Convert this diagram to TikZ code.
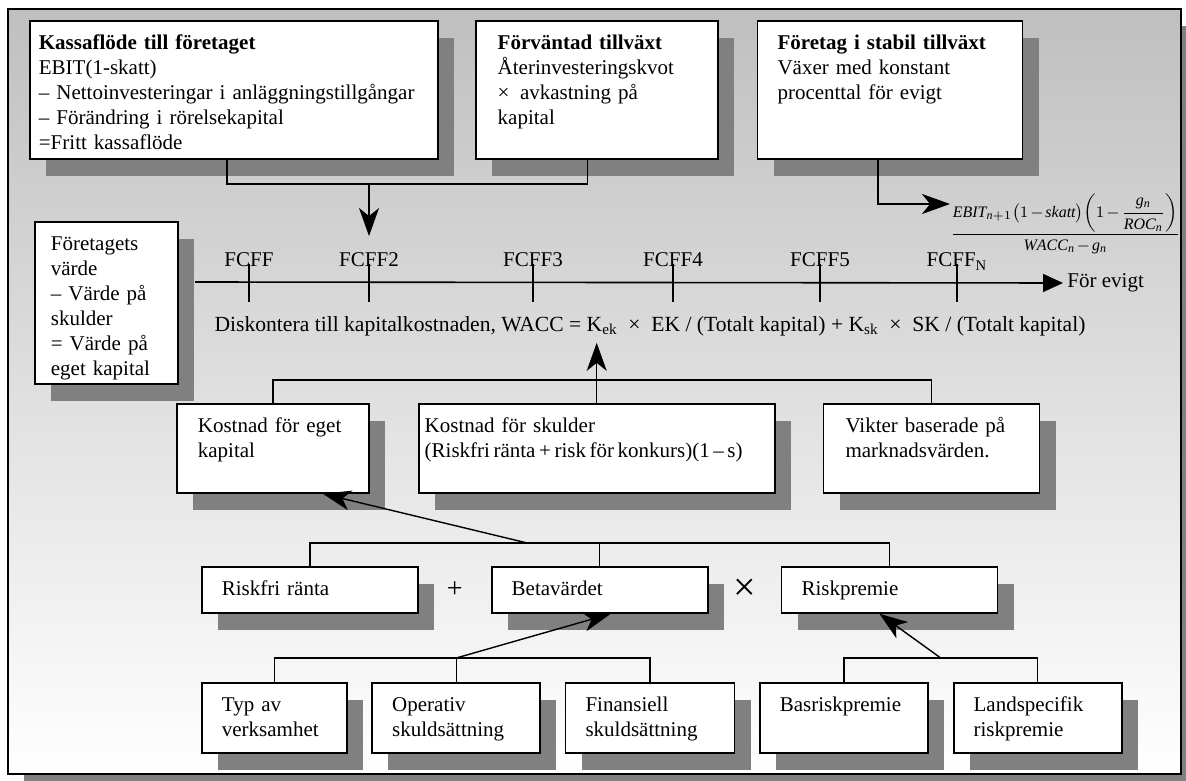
\documentclass[tikz,border=0pt]{standalone}
\usepackage{amsmath}
\usepackage{fontspec}
\setmainfont{Liberation Serif}
\usepackage{tikz}
\usetikzlibrary{arrows.meta,positioning,shadows,calc}

\begin{document}
\begin{tikzpicture}[
    x=0.5pt, y=-0.5pt,
    font=\fontsize{10.5}{12.5}\selectfont,
    box/.style={draw, line width=0.9pt, fill=white, anchor=north west, align=left,
                inner xsep=10pt, inner ysep=0pt, text height=14.5pt,
                drop shadow={shadow xshift=8pt, shadow yshift=-8.5pt,
                             fill=black!50, opacity=1}},
    toprow/.style={box, text depth=54.5pt},
    midrow/.style={box, text depth=30pt},
    lowrow/.style={box, text depth=8.5pt, text width=88pt},
    botrow/.style={box, text depth=20.5pt, text width=#1},
    conn/.style={line width=0.7pt},
    arr/.style={-{Stealth[length=14pt, width=10pt, inset=4pt]}, line width=0.7pt},
    axis/.style={-{Triangle[length=10pt, width=9pt]}, thick},
]
    \useasboundingbox (0,0) rectangle (1186,780);
    \clip (0,0) rectangle (1186,780);
    \fill[black!50] (24,26) rectangle (1197,791);
    \shade[top color=black!25, bottom color=white, draw, line width=1pt] (8,9) rectangle (1181,774);

    % top row
    \node[toprow, inner xsep=4.5pt, text width=195pt] (kf) at (29,20)
        {\textbf{Kassaflöde till företaget}\\ EBIT(1-skatt)\\
         – Nettoinvesteringar i anläggningstillgångar\\
         – Förändring i rörelsekapital\\ =Fritt kassaflöde};
    \node[toprow, inner xsep=11pt, text width=99pt, right=18pt of kf] (ft)
        {\textbf{Förväntad tillväxt}\\ Återinvesteringskvot\\ ×\enspace avkastning på\\ kapital};
    \node[toprow, text width=112.5pt, right=19pt of ft] (st)
        {\textbf{Företag i stabil tillväxt}\\ Växer med konstant\\ procenttal för evigt};

    \node[anchor=west, inner sep=0pt, font=\fontsize{8}{10}\selectfont] (frac) at (950,224)
        {$\thinmuskip=0mu \medmuskip=2mu
          \dfrac{\mathit{EBIT}_{\mathit{n}+1}\bigl(1-\mathit{skatt}\bigr)\left(1-\dfrac{\mathit{g}_{\mathit{n}}}{\mathit{ROC}_{\mathit{n}}}\right)}{\mathit{WACC}_{\mathit{n}}-\mathit{g}_{\mathit{n}}}$};

    % timeline
    \node[box, inner xsep=8pt, text width=55.5pt, text depth=66.5pt] (vf) at (34,221)
        {Företagets\\ värde\\ – Värde på\\ skulder\\ = Värde på\\ eget kapital};
    \coordinate (ax0) at (195,282);
    \node[anchor=west, inner sep=2pt] (evigt) at (1063,283) {För evigt};
    \draw[axis] (ax0) -- (evigt.west);
    \foreach \x/\lbl [count=\i] in {249/FCFF, 369/FCFF2, 533/FCFF3, 673/FCFF4, 820/FCFF5, 957/FCFF\textsubscript{N}} {
        \draw[thick] (\x,264) -- (\x,302);
        \node[anchor=base] (f\i) at (\x,267) {\lbl};
    }
    \node[font=\fontsize{10.8}{13}\selectfont] (wacc) at (650,326) {Diskontera till kapitalkostnaden, WACC = K\textsubscript{ek}\enspace×\enspace EK / (Totalt kapital) + K\textsubscript{sk}\enspace×\enspace SK / (Totalt kapital)};

    % middle row
    \node[midrow, inner xsep=10.5pt, text width=75pt] (kek) at (176,403) {Kostnad för eget\\ kapital};
    \node[midrow, inner xsep=3pt, text width=172pt, right=24pt of kek] (ksk)
        {Kostnad för skulder\\ {\spaceskip=0.17em\relax (Riskfri ränta + risk för konkurs)(1 – s)}};
    \node[midrow, inner xsep=11pt, text width=86pt, right=23.5pt of ksk] (vik) {Vikter baserade på\\ marknadsvärden.};

    % cost of equity
    \node[lowrow] (rf) at (201,566) {Riskfri ränta};
    \node[lowrow, right=36pt of rf] (beta) {Betavärdet};
    \node[lowrow, right=36pt of beta] (rp) {Riskpremie};
    \node[font=\fontsize{14}{14}\selectfont] (plus) at ($(rf.east)!0.5!(beta.west)$) {+};
    \node[font=\fontsize{20}{20}\selectfont] (times) at ($(beta.east)!0.5!(rp.west)$) {×};

    \node[botrow=52.5pt] (typ) at (201,682) {Typ av\\ verksamhet};
    \node[botrow=64pt, right=11.75pt of typ] (op) {Operativ\\ skuldsättning};
    \node[botrow=64.5pt, right=11.75pt of op] (fin) {Finansiell\\ skuldsättning};
    \node[botrow=64pt, right=11.75pt of fin] (bas) {Basriskpremie};
    \node[botrow=64pt, right=12pt of bas] (land) {Landspecifik\\ riskpremie};

    % connectors
    \coordinate (j1) at (369,184);
    \draw[conn] ([xshift=-3.5pt]kf.south) |- (j1) -| ([xshift=-4.5pt]ft.south);
    \draw[arr, shorten >=5pt] (j1) -- (j1 |- f2.north);
    \draw[arr] ([xshift=-6pt]st.south) |- ([yshift=10pt]frac.west);

    \coordinate (j2) at ($(ksk.north)+(0,-23)$);
    \draw[conn] (kek.north) |- (j2) -| (vik.north);
    \draw[conn] (ksk.north) -- (j2);
    \draw[arr] (j2) -- (j2 |- wacc.south);

    \coordinate (j3) at ($(rf.north)!0.75!(beta.north)+(0,-23)$);
    \draw[conn] (rf.north) |- (j3) -| (rp.north);
    \draw[conn] (beta.north) -- (beta.north |- j3);
    \draw[arr] (j3) -- ([xshift=25pt]kek.south);

    \coordinate (j4) at ($(op.north)+(0,-24)$);
    \draw[conn] (typ.north) |- (j4) -| (fin.north);
    \draw[conn] (op.north) -- (j4);
    \draw[arr] (j4) -- ([xshift=5.5pt]beta.south);

    \coordinate (j5) at ($(bas.north)!0.5!(land.north)+(0,-24)$);
    \draw[conn] (bas.north) |- (j5) -| (land.north);
    \draw[arr] (j5) -- ([xshift=-5pt]rp.south);
\end{tikzpicture}
\end{document}
